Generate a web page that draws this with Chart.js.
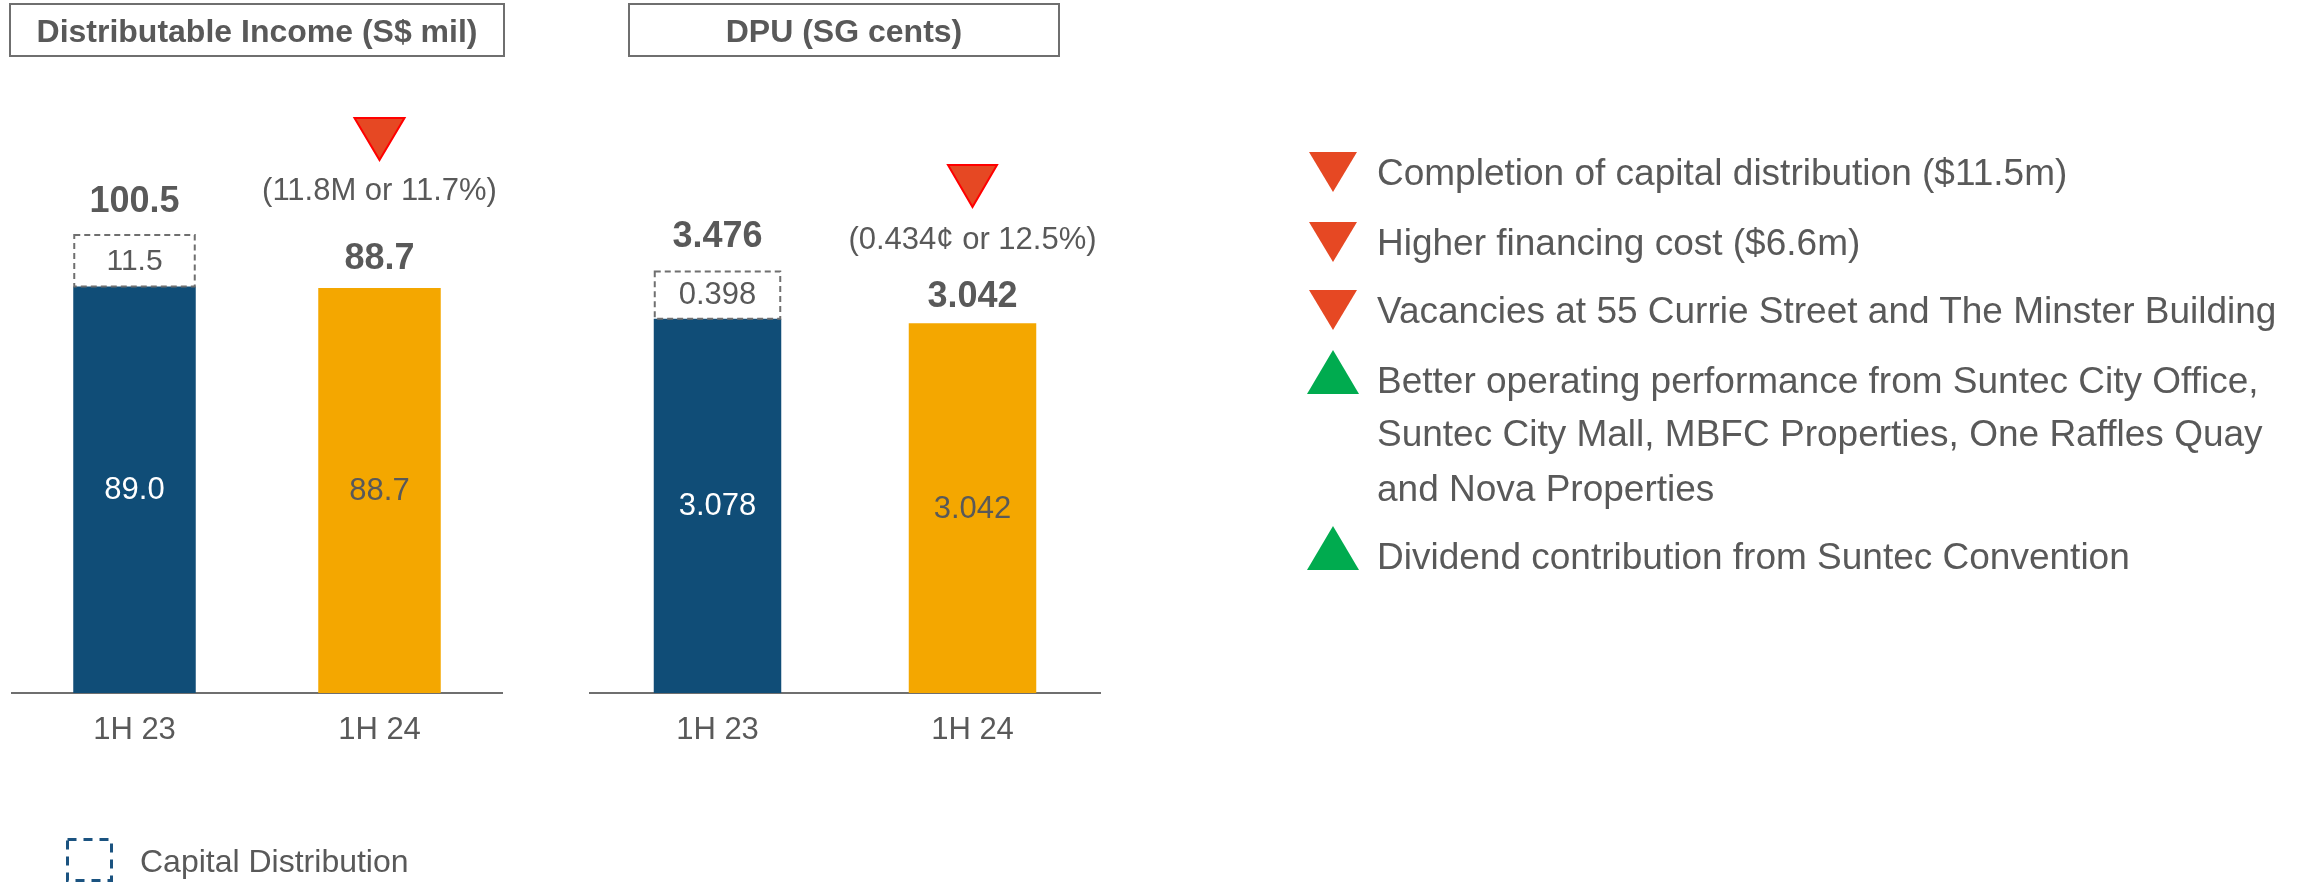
<!DOCTYPE html>
<html><head><meta charset="utf-8">
<script src="https://cdn.jsdelivr.net/npm/chart.js@4.4.0/dist/chart.umd.min.js"></script>
<style>
html,body{margin:0;padding:0;background:#fff;width:2306px;height:885px;overflow:hidden;font-family:"Liberation Sans",Arial,sans-serif;}
canvas{position:absolute;}
#ov{position:absolute;left:0;top:0;}
</style></head><body>
<canvas id="c1" width="520" height="885" style="left:0px;top:0px;width:520px;height:885px"></canvas>
<canvas id="c2" width="540" height="885" style="left:570px;top:0px;width:540px;height:885px"></canvas>
<svg id="ov" width="2306" height="885" xmlns="http://www.w3.org/2000/svg"></svg>
<script>
// ---------- data ----------
const categories = ['1H 23', '1H 24'];
const incomeBase = [89.0, 88.7];
const incomeCapital = [11.5, 0];
const incomeTotal = [100.5, 88.7];
const incomeChange = '(11.8M or 11.7%)';
const dpuBase = [3.078, 3.042];
const dpuCapital = [0.398, 0];
const dpuTotal = [3.476, 3.042];
const dpuChange = '(0.434\u00A2 or 12.5%)';
const chartTitles = ['Distributable Income (S$ mil)', 'DPU (SG cents)'];
const legendLabel = 'Capital Distribution';
const drivers = [
  {dir: 'down', lines: ['Completion of capital distribution ($11.5m)']},
  {dir: 'down', lines: ['Higher financing cost ($6.6m)']},
  {dir: 'down', lines: ['Vacancies at 55 Currie Street and The Minster Building']},
  {dir: 'up', lines: ['Better operating performance from Suntec City Office,', 'Suntec City Mall, MBFC Properties, One Raffles Quay', 'and Nova Properties']},
  {dir: 'up', lines: ['Dividend contribution from Suntec Convention']}
];

// ---------- styles ----------
const FONT = '"Liberation Sans", Arial, sans-serif';
const NAVY = '#104D77';
const ORANGE = '#F4A700';
const GREY = '#595959';
const BORDER = '#6f6f6f';
const RED = '#E64823';
const GREEN = '#00AB4F';

function annotPlugin(cfg) {
  return {
    id: 'annot' + cfg.id,
    afterDatasetsDraw(chart) {
      const ctx = chart.ctx;
      const baseEls = chart.getDatasetMeta(0).data;
      const capEls = chart.getDatasetMeta(1).data;
      const ys = chart.scales.y;
      ctx.save();
      ctx.textAlign = 'center';
      // capital distribution dashed boxes
      capEls.forEach((el, i) => {
        const v = cfg.capital[i];
        if (!v) return;
        const p = el.getProps(['x', 'y', 'base', 'width'], true);
        const l = p.x - p.width / 2;
        ctx.setLineDash([6, 4]);
        ctx.lineWidth = 2;
        ctx.strokeStyle = BORDER;
        ctx.strokeRect(l + 1, p.y + 1, p.width - 2, p.base - p.y - 1);
        ctx.setLineDash([]);
        ctx.fillStyle = GREY;
        ctx.font = cfg.capSize + 'px ' + FONT;
        ctx.textBaseline = 'middle';
        ctx.fillText(v.toFixed(cfg.dec), p.x, (p.y + p.base) / 2 + 1);
      });
      baseEls.forEach((el, i) => {
        const p = el.getProps(['x', 'y', 'base'], true);
        ctx.fillStyle = cfg.innerColors[i];
        ctx.font = '31px ' + FONT;
        ctx.textBaseline = 'middle';
        ctx.fillText(cfg.base[i].toFixed(cfg.dec), p.x, (p.y + p.base) / 2 + 1);
        const topY = ys.getPixelForValue(cfg.total[i]);
        ctx.fillStyle = GREY;
        ctx.font = 'bold 36px ' + FONT;
        ctx.textBaseline = 'alphabetic';
        ctx.fillText(cfg.total[i].toFixed(cfg.dec), p.x, topY - cfg.totalOffset[i]);
      });
      // change annotation above the latest bar
      const last = baseEls[baseEls.length - 1].getProps(['x'], true);
      const a = cfg.arrow;
      ctx.beginPath();
      ctx.moveTo(last.x - a.half, a.top);
      ctx.lineTo(last.x + a.half, a.top);
      ctx.lineTo(last.x, a.bottom);
      ctx.closePath();
      ctx.fillStyle = RED;
      ctx.fill();
      ctx.lineWidth = 2;
      ctx.strokeStyle = '#FF0000';
      ctx.stroke();
      ctx.fillStyle = GREY;
      ctx.font = '31px ' + FONT;
      ctx.textBaseline = 'alphabetic';
      ctx.fillText(cfg.change, last.x, a.textBase);
      ctx.restore();
    }
  };
}

function makeChart(id, base, capital, total, change, opts) {
  return new Chart(document.getElementById(id), {
    type: 'bar',
    data: {
      labels: categories,
      datasets: [
        {data: base, backgroundColor: [NAVY, ORANGE], barPercentage: 0.5, categoryPercentage: 1, stack: 's'},
        {data: capital, backgroundColor: 'rgba(0,0,0,0)', barPercentage: 0.5, categoryPercentage: 1, stack: 's'}
      ]
    },
    options: {
      responsive: false,
      animation: false,
      devicePixelRatio: 1,
      layout: {padding: opts.padding},
      plugins: {legend: {display: false}, tooltip: {enabled: false}},
      scales: {
        x: {
          stacked: true,
          z: 1,
          grid: {display: false, drawTicks: false},
          border: {display: true, color: BORDER, width: 2},
          ticks: {color: GREY, font: {family: FONT, size: 31}, padding: 19},
          afterFit(s) { s.height = 60; }
        },
        y: {stacked: true, display: false, min: 0, max: opts.max}
      }
    },
    plugins: [annotPlugin({
      id: id, base: base, capital: capital, total: total, change: change,
      dec: opts.dec, capSize: opts.capSize,
      innerColors: ['#ffffff', GREY],
      totalOffset: opts.totalOffset,
      arrow: opts.arrow
    })]
  });
}

makeChart('c1', incomeBase, incomeCapital, incomeTotal, incomeChange, {
  padding: {left: 12, right: 18, top: 145, bottom: 132}, max: 120, dec: 1, capSize: 30,
  totalOffset: [22.5, 19], arrow: {top: 118, bottom: 160, half: 25, textBase: 200}
});
makeChart('c2', dpuBase, dpuCapital, dpuTotal, dpuChange, {
  padding: {left: 20, right: 10, top: 146, bottom: 132}, max: 4.5, dec: 3, capSize: 31,
  totalOffset: [23.5, 16], arrow: {top: 165, bottom: 207, half: 24.5, textBase: 249}
});

// ---------- overlay: titles, drivers, legend ----------
const NS = 'http://www.w3.org/2000/svg';
const svg = document.getElementById('ov');
function el(tag, attrs, text) {
  const e = document.createElementNS(NS, tag);
  for (const k in attrs) e.setAttribute(k, attrs[k]);
  if (text !== undefined) e.textContent = text;
  svg.appendChild(e);
  return e;
}
const titleBoxes = [{x: 10, w: 494}, {x: 629, w: 430}];
chartTitles.forEach((t, i) => {
  const b = titleBoxes[i];
  el('rect', {x: b.x, y: 4, width: b.w, height: 52, fill: 'none', stroke: BORDER, 'stroke-width': 2});
  el('text', {x: b.x + b.w / 2, y: 42, 'text-anchor': 'middle', 'font-family': FONT, 'font-size': 32, 'font-weight': 'bold', fill: GREY}, t);
});

const itemBaselines = [[185], [255], [323], [393, 446, 501], [569]];
drivers.forEach((d, i) => {
  const bl = itemBaselines[i];
  if (d.dir === 'down') {
    const top = bl[0] - 33, bot = bl[0] + 7;
    el('polygon', {points: `1309,${top} 1357,${top} 1333,${bot}`, fill: RED});
  } else {
    const bot = bl[0] + 1, top = bl[0] - 43;
    el('polygon', {points: `1307,${bot} 1359,${bot} 1333,${top}`, fill: GREEN});
  }
  d.lines.forEach((ln, j) => {
    el('text', {x: 1377, y: bl[j], 'font-family': FONT, 'font-size': 37, fill: GREY}, ln);
  });
});

el('rect', {x: 67.5, y: 839.5, width: 44, height: 41, fill: 'none', stroke: '#1B5380', 'stroke-width': 3, 'stroke-dasharray': '9 7'});
el('text', {x: 140, y: 872, 'font-family': FONT, 'font-size': 32, fill: GREY}, legendLabel);
</script>
</body></html>
